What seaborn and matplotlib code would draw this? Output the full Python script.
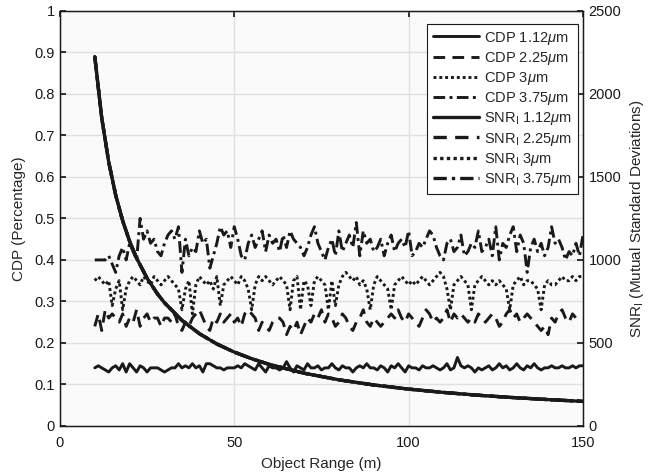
import numpy as np
import pandas as pd
import matplotlib
matplotlib.use("Agg")
import matplotlib.pyplot as plt
import seaborn as sns

# Object range (m), sampled every 1 m
obj_range = list(range(10, 151))

# CDP curves
cdp_112 = [0.14,0.145,0.14,0.135,0.13,0.14,0.145,0.135,0.15,0.13,0.15,0.14,0.13,0.145,0.14,0.13,0.14,0.14,0.14,0.135,
           0.13,0.135,0.14,0.14,0.15,0.14,0.145,0.14,0.15,0.14,0.145,0.13,0.15,0.15,0.145,0.14,0.14,0.135,0.14,0.14,
           0.14,0.145,0.14,0.15,0.145,0.14,0.135,0.15,0.14,0.13,0.145,0.14,0.14,0.135,0.14,0.155,0.14,0.13,0.145,0.14,
           0.135,0.15,0.14,0.14,0.145,0.135,0.14,0.14,0.15,0.14,0.135,0.145,0.14,0.14,0.13,0.14,0.145,0.14,0.15,0.14,
           0.14,0.135,0.145,0.14,0.13,0.145,0.14,0.15,0.14,0.13,0.145,0.14,0.14,0.135,0.145,0.14,0.14,0.145,0.14,0.135,
           0.14,0.15,0.135,0.14,0.165,0.145,0.14,0.145,0.14,0.13,0.14,0.135,0.14,0.145,0.135,0.14,0.15,0.14,0.145,0.135,
           0.14,0.15,0.14,0.135,0.145,0.14,0.15,0.14,0.135,0.14,0.14,0.145,0.14,0.14,0.145,0.14,0.14,0.145,0.14,0.145,0.145]
cdp_225 = [0.24,0.27,0.23,0.28,0.26,0.27,0.26,0.25,0.27,0.24,0.26,0.25,0.28,0.24,0.26,0.27,0.25,0.26,0.26,0.24,
           0.26,0.26,0.25,0.27,0.24,0.23,0.25,0.24,0.26,0.27,0.28,0.26,0.24,0.23,0.26,0.25,0.27,0.25,0.26,0.27,
           0.25,0.26,0.24,0.27,0.28,0.27,0.26,0.23,0.25,0.24,0.23,0.25,0.26,0.26,0.25,0.22,0.24,0.23,0.25,0.22,
           0.24,0.26,0.25,0.27,0.26,0.28,0.25,0.27,0.26,0.24,0.25,0.27,0.26,0.24,0.23,0.25,0.26,0.28,0.25,0.24,
           0.26,0.25,0.24,0.25,0.26,0.27,0.26,0.28,0.26,0.25,0.27,0.26,0.25,0.24,0.26,0.28,0.27,0.25,0.26,0.25,
           0.26,0.28,0.25,0.27,0.26,0.27,0.26,0.25,0.26,0.25,0.27,0.26,0.25,0.26,0.27,0.26,0.24,0.25,0.27,0.28,
           0.26,0.27,0.25,0.26,0.27,0.26,0.25,0.24,0.23,0.24,0.22,0.26,0.25,0.27,0.28,0.26,0.25,0.27,0.26,0.26,0.26]
cdp_3 = [0.35,0.36,0.35,0.34,0.35,0.29,0.33,0.35,0.28,0.33,0.35,0.36,0.35,0.34,0.36,0.35,0.34,0.36,0.35,0.34,
         0.35,0.36,0.35,0.34,0.33,0.28,0.33,0.35,0.27,0.34,0.36,0.35,0.34,0.35,0.33,0.36,0.29,0.34,0.35,0.36,
         0.35,0.34,0.36,0.35,0.33,0.28,0.34,0.36,0.35,0.36,0.35,0.34,0.35,0.36,0.35,0.34,0.28,0.35,0.36,0.28,
         0.35,0.34,0.29,0.35,0.36,0.35,0.34,0.28,0.35,0.29,0.34,0.36,0.37,0.36,0.35,0.36,0.34,0.35,0.33,0.28,
         0.34,0.36,0.35,0.34,0.33,0.28,0.34,0.35,0.36,0.35,0.34,0.35,0.34,0.35,0.36,0.35,0.34,0.35,0.36,0.37,
         0.36,0.33,0.28,0.34,0.35,0.36,0.35,0.34,0.28,0.34,0.35,0.36,0.35,0.34,0.35,0.34,0.35,0.34,0.33,0.28,
         0.34,0.35,0.36,0.34,0.35,0.35,0.34,0.33,0.28,0.34,0.35,0.34,0.34,0.35,0.36,0.35,0.35,0.36,0.35,0.36,0.36]
cdp_375 = [0.40,0.40,0.40,0.40,0.41,0.39,0.37,0.41,0.43,0.40,0.44,0.42,0.40,0.50,0.45,0.47,0.44,0.45,0.42,0.41,
           0.44,0.46,0.47,0.45,0.48,0.37,0.45,0.41,0.43,0.42,0.47,0.44,0.45,0.38,0.41,0.44,0.48,0.46,0.47,0.43,
           0.48,0.45,0.41,0.40,0.44,0.46,0.43,0.45,0.47,0.42,0.46,0.44,0.45,0.42,0.46,0.43,0.47,0.45,0.44,0.43,
           0.41,0.43,0.46,0.48,0.44,0.42,0.40,0.43,0.45,0.41,0.47,0.42,0.44,0.46,0.43,0.49,0.41,0.47,0.44,0.45,
           0.42,0.43,0.45,0.41,0.44,0.46,0.42,0.44,0.45,0.43,0.47,0.41,0.42,0.44,0.43,0.45,0.47,0.46,0.43,0.41,
           0.40,0.44,0.45,0.42,0.43,0.46,0.41,0.42,0.44,0.43,0.47,0.42,0.43,0.45,0.41,0.48,0.40,0.44,0.43,0.46,
           0.48,0.42,0.46,0.44,0.37,0.43,0.45,0.42,0.44,0.41,0.43,0.48,0.44,0.45,0.43,0.40,0.42,0.41,0.44,0.41,0.46]

# SNR curve (all four pixel sizes lie on top of each other)
snr_range = [10, 12, 14, 16, 18, 20, 22, 25, 28, 30, 35, 40, 45, 50, 55, 60, 70, 80, 90, 100, 110, 120, 130, 140, 150]
snr_vals = [2225, 1855, 1590, 1390, 1236, 1112, 1011, 890, 795, 742, 636, 556, 494, 445, 405, 371,
            318, 278, 247, 222, 202, 185, 171, 159, 148]

sizes = ["1.12", "2.25", "3", "3.75"]
styles = ["-", (0, (4, 2.5)), (0, (1, 1)), (0, (4, 1.5, 1, 1.5))]

sns.set_theme(style="white")
plt.rcParams['font.family'] = ['Liberation Sans', 'DejaVu Sans']
plt.rcParams['mathtext.fontset'] = 'custom'
plt.rcParams['mathtext.rm'] = 'Liberation Sans'
plt.rcParams['mathtext.it'] = 'Liberation Sans:italic'

fig, ax = plt.subplots(figsize=(6.51, 4.72), dpi=100)
fig.subplots_adjust(left=0.092, right=0.8955, top=0.977, bottom=0.0975)
ax.set_facecolor("#fafafa")
ax2 = ax.twinx()

df_cdp = pd.DataFrame({"range": obj_range, "1.12": cdp_112, "2.25": cdp_225, "3": cdp_3, "3.75": cdp_375})
for s, ls in zip(sizes, styles):
    sns.lineplot(x="range", y=s, data=df_cdp, ax=ax, color="k", linestyle=ls, lw=2.1,
                 label=f"CDP {s}$\\mu$m", legend=False)

for s, ls in zip(sizes[::-1], styles[::-1]):
    sns.lineplot(x=snr_range, y=snr_vals, ax=ax2, color="k", linestyle=ls, lw=2.4,
                 label=f"SNR$_\\mathrm{{I}}$ {s}$\\mu$m", legend=False)

ax.set_xlim(0, 150)
ax.set_ylim(0, 1)
ax2.set_ylim(0, 2500)
ax.set_xticks([0, 50, 100, 150])
ax.set_yticks(np.arange(0, 1.01, 0.1))
ax.set_yticklabels(["0", "0.1", "0.2", "0.3", "0.4", "0.5", "0.6", "0.7", "0.8", "0.9", "1"])
ax2.set_yticks([0, 500, 1000, 1500, 2000, 2500])
ax.grid(True, color="#e0e0e0", lw=1)
ax.set_axisbelow(True)

ax.tick_params(direction="in", top=True, length=4, labelsize=10.5, colors="k")
ax.tick_params(axis="x", pad=7)
ax2.tick_params(direction="in", length=4, labelsize=10.5, colors="k", pad=4)
for a in (ax, ax2):
    for sp in a.spines.values():
        sp.set_color("k")
        sp.set_linewidth(0.9)

ax.set_xlabel("Object Range (m)", fontsize=11, labelpad=5)
ax.set_ylabel("CDP (Percentage)", fontsize=11, labelpad=6)
ax2.set_ylabel("SNR$_\\mathrm{I}$ (Mutual Standard Deviations)", fontsize=11, labelpad=5)

h1, l1 = ax.get_legend_handles_labels()
h2, l2 = ax2.get_legend_handles_labels()
h2, l2 = h2[::-1], l2[::-1]
leg = ax2.legend(h1 + h2, l1 + l2, loc="upper right", bbox_to_anchor=(0.99, 0.969), fontsize=10.5,
                 frameon=True, fancybox=False, edgecolor="k", framealpha=1, handlelength=3.2,
                 handletextpad=0.3, labelspacing=0.22, borderpad=0.4, borderaxespad=0)
leg.get_frame().set_linewidth(0.8)

fig.savefig("out.png", dpi=100)
